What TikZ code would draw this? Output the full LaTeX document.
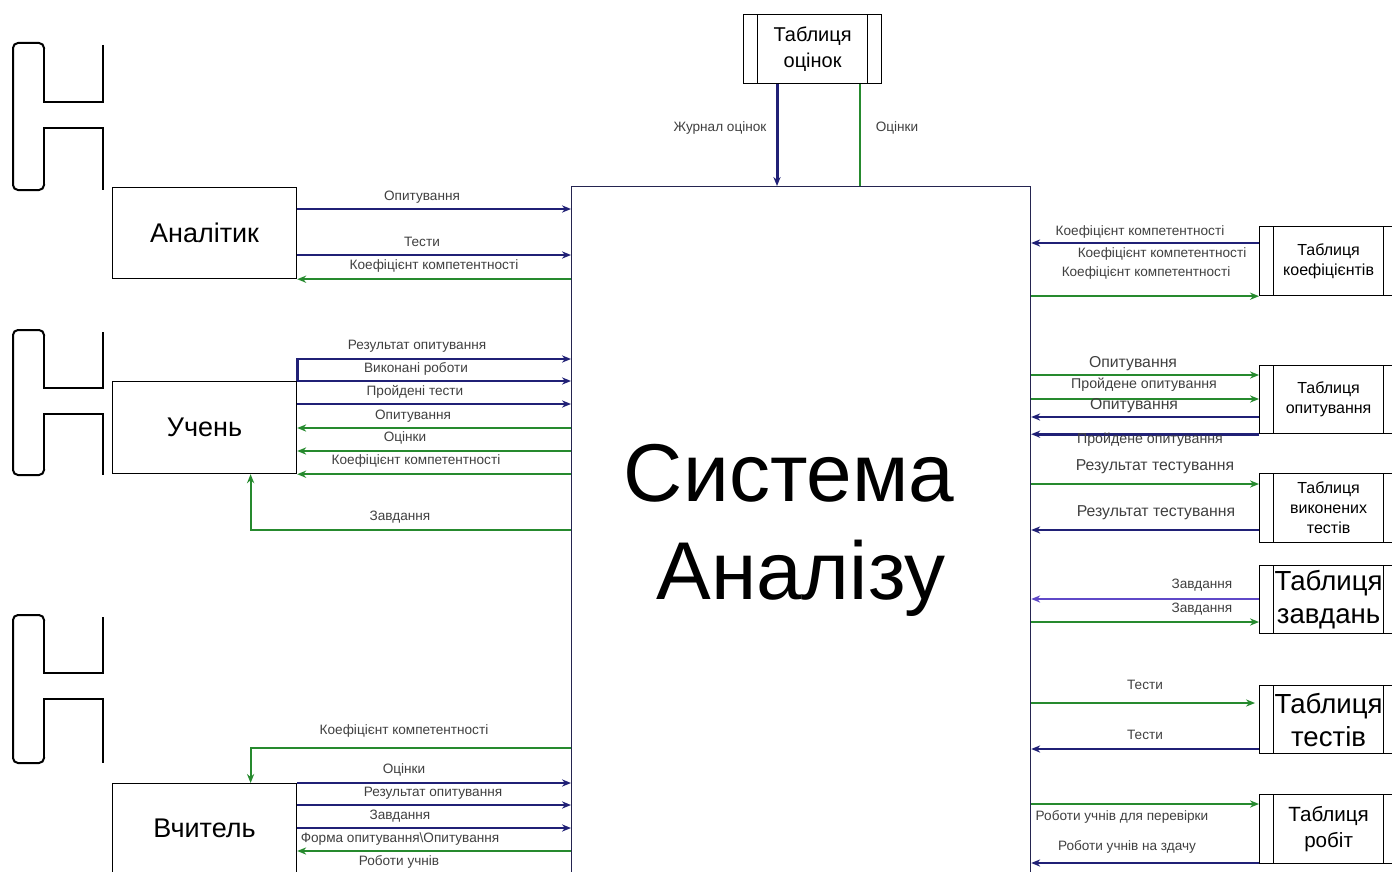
\documentclass[tikz,border=0pt]{standalone}
\usepackage{fontspec}
\setmainfont{Liberation Sans}
\usetikzlibrary{arrows.meta}
\definecolor{navy}{RGB}{32,32,118}
\definecolor{grn}{RGB}{38,138,46}
\definecolor{violetline}{RGB}{95,72,200}
\definecolor{framec}{RGB}{36,36,80}
\tikzset{
  entity/.style={draw=black, line width=0.6pt, anchor=north west, minimum width=92pt,
    inner sep=0pt, font=\fontsize{13.5}{16}\selectfont},
  store/.style={draw=black, line width=0.6pt, anchor=north west, minimum width=69pt,
    inner sep=0pt, align=center,
    path picture={\draw[line width=0.6pt]
      ([xshift=7pt]path picture bounding box.north west) -- ([xshift=7pt]path picture bounding box.south west)
      ([xshift=-7pt]path picture bounding box.north east) -- ([xshift=-7pt]path picture bounding box.south east);}},
  actor/.style={draw=black, line width=1pt},
  tip/.style={-{Stealth[length=4.5pt,width=3.6pt]}},
  bl/.style={draw=navy, line width=1.3pt, tip},
  gr/.style={draw=grn, line width=1.1pt, tip},
  vl/.style={draw=violetline, line width=1.3pt, tip},
  lbl/.style={text=black!75, inner sep=0pt, font=\fontsize{6.8}{8}\selectfont},
  lblb/.style={lbl, font=\fontsize{7.9}{9}\selectfont},
  lblm/.style={lbl, font=\fontsize{7.1}{8}\selectfont},
  small/.style={font=\fontsize{8}{10}\selectfont},
}
\begin{document}
\begin{tikzpicture}[x=0.5pt, y=-0.5pt]
\useasboundingbox (0,0) rectangle (1392,872);
\clip (0,0) rectangle (1392,872);
\fill[white] (0,0) rectangle (1392,872);

% actor symbols on the left
\foreach \T/\A/\B/\E in {43/102/128/190, 330/388/414/475, 615/673/699/763}{
  \draw[actor] (103,\T+2) -- (103,\A) -- (44,\A) -- (44,\T+5);
  \draw[actor, rounded corners=2.5pt] (44,\T+6) -- (44,\T) -- (13,\T) -- (13,\E) -- (44,\E) -- (44,\E-6);
  \draw[actor] (44,\E-5) -- (44,\B) -- (103,\B) -- (103,\E);
}

% central process
\node[draw=framec, line width=0.6pt, anchor=north west, minimum width=229.5pt, minimum height=344pt,
      inner sep=0pt, align=center, font=\fontsize{41}{49}\selectfont] (sys) at (571,186)
      {Система\hspace*{12pt}\\Аналізу};

% external entities
\node[entity, minimum height=45.5pt] (an) at (112,187) {Аналітик};
\node[entity, minimum height=46pt]   (st) at (112,381) {Учень};
\node[entity, minimum height=45pt]   (tc) at (112,783) {Вчитель};

% data stores
\node[store, minimum height=34.5pt, font=\fontsize{10}{13}\selectfont] (to) at (743,14) {Таблиця\\оцінок};
\node[store, small, minimum height=34.5pt] (tk) at (1259,226) {Таблиця\\коефіцієнтів};
\node[store, small, minimum height=34pt]   (tp) at (1259,365) {Таблиця\\опитування};
\node[store, small, minimum height=34.5pt] (tv) at (1259,473) {Таблиця\\виконених\\тестів};
\node[store, minimum height=34pt, font=\fontsize{13.8}{16.5}\selectfont] (tz) at (1259,565) {Таблиця\\завдань};
\node[store, minimum height=34pt, font=\fontsize{13.8}{16.5}\selectfont] (tt) at (1259,685) {Таблиця\\тестів};
\node[store, minimum height=34.5pt, font=\fontsize{10.3}{13}\selectfont] (tr) at (1259,794) {Таблиця\\робіт};

% flows: Аналітик
\draw[bl] (an.east |- 0,209) -- (sys.west |- 0,209) node[lbl] (la1) at (422,197) {Опитування};
\draw[bl] (an.east |- 0,255) -- (sys.west |- 0,255) node[lbl] (la2) at (422,242) {Тести};
\draw[gr] (sys.west |- an.south) -- (an.south east) node[lbl] (la3) at (434,266) {Коефіцієнт компетентності};

% flows: Учень
\draw[bl] (st.north east) |- (sys.west |- 0,359) node[lbl] (ls1) at (417,346) {Результат опитування};
\draw[bl] (st.north east) -- (sys.west |- st.north) node[lbl] (ls2) at (416,369) {Виконані роботи};
\draw[bl] (st.east |- 0,404) -- (sys.west |- 0,404) node[lbl] (ls3) at (415,392) {Пройдені тести};
\draw[gr] (sys.west |- 0,428) -- (st.east |- 0,428) node[lbl] (ls4) at (413,416) {Опитування};
\draw[gr] (sys.west |- 0,451) -- (st.east |- 0,451) node[lbl] (ls5) at (405,438) {Оцінки};
\draw[gr] (sys.west |- st.south) -- (st.south east) node[lbl] (ls6) at (416,461) {Коефіцієнт компетентності};
\draw[gr] (sys.west |- 0,530) -| ([xshift=23pt]st.south) node[lbl] (ls7) at (400,517) {Завдання};

% flows: Вчитель
\draw[gr] (sys.west |- 0,748) -| ([xshift=23pt]tc.north) node[lbl] (lt1) at (404,731) {Коефіцієнт компетентності};
\draw[bl] (tc.north east) -- (sys.west |- tc.north) node[lbl] (lt2) at (404,770) {Оцінки};
\draw[bl] (tc.east |- 0,805) -- (sys.west |- 0,805) node[lbl] (lt3) at (433,793) {Результат опитування};
\draw[bl] (tc.east |- 0,828) -- (sys.west |- 0,828) node[lbl] (lt4) at (400,816) {Завдання};
\draw[gr] (sys.west |- 0,851) -- (tc.east |- 0,851) node[lbl] (lt5) at (400,839) {Форма опитування\textbackslash Опитування};
\draw[gr] (sys.west |- 0,876) -- (tc.east |- 0,876) node[lbl] (lt6) at (399,862) {Роботи учнів};

% flows: Таблиця оцінок
\draw[bl, line width=1.5pt] (to.south -| 777,0) -- (sys.north -| 777,0) node[lbl] (lo1) at (720,128) {Журнал оцінок};
\draw[draw=grn, line width=0.9pt] (sys.north -| 860,0) -- (to.south -| 860,0) node[lbl] (lo2) at (897,128) {Оцінки};

% flows: right-hand stores
\draw[bl] (tk.west |- 0,243) -- (sys.east |- 0,243) node[lbl] (lk1) at (1140,232) {Коефіцієнт компетентності};
\node[lbl] (lk2) at (1162,254) {Коефіцієнт компетентності};
\draw[gr] (sys.east |- tk.south) -- (tk.south west) node[lbl] (lk3) at (1146,273) {Коефіцієнт компетентності};

\draw[gr] (sys.east |- 0,375) -- (tp.west |- 0,375) node[lblb] (lp1) at (1133,364) {Опитування};
\draw[gr] (sys.east |- 0,399) -- (tp.west |- 0,399) node[lblm] (lp2) at (1144,385) {Пройдене опитування};
\draw[bl] (tp.west |- 0,417) -- (sys.east |- 0,417) node[lblb] (lp3) at (1134,406) {Опитування};
\draw[bl] (tp.south west) -- (sys.east |- tp.south) node[lblm] (lp4) at (1150,440) {Пройдене опитування};

\draw[gr] (sys.east |- 0,484) -- (tv.west |- 0,484) node[lblb] (lv1) at (1155,467) {Результат тестування};
\draw[bl] (tv.west |- 0,530) -- (sys.east |- 0,530) node[lblb] (lv2) at (1156,513) {Результат тестування};

\draw[vl] (tz.west |- 0,599) -- (sys.east |- 0,599) node[lbl] (lz1) at (1202,585) {Завдання};
\draw[gr] (sys.east |- 0,622) -- (tz.west |- 0,622) node[lbl] (lz2) at (1202,609) {Завдання};

\draw[gr, line width=0.6pt] (sys.east |- 0,703) -- ([xshift=-2pt]tt.west |- 0,703) node[lbl] (ltt1) at (1145,685) {Тести};
\draw[bl] (tt.west |- 0,749) -- (sys.east |- 0,749) node[lbl] (ltt2) at (1145,735) {Тести};

\draw[gr] (sys.east |- 0,804) -- (tr.west |- 0,804) node[lbl] (lr1) at (1122,817) {Роботи учнів для перевірки};
\draw[bl] (tr.west |- 0,863) -- (sys.east |- 0,863) node[lbl] (lr2) at (1127,847) {Роботи учнів на здачу};
\end{tikzpicture}
\end{document}
